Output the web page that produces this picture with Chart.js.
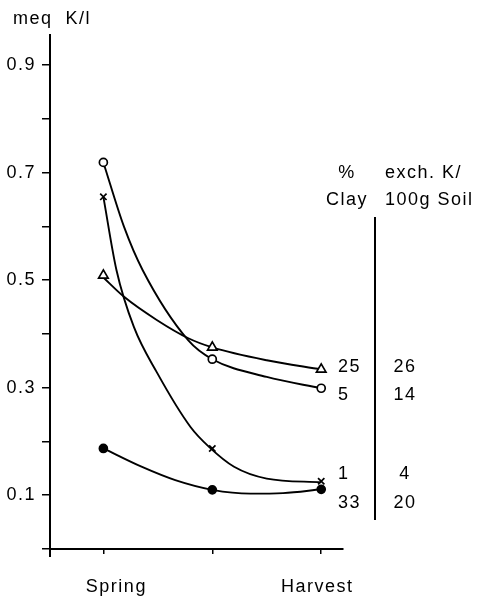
<!DOCTYPE html>
<html>
<head>
<meta charset="utf-8">
<script src="https://cdn.jsdelivr.net/npm/chart.js@4.4.1/dist/chart.umd.min.js"></script>
<style>
  html, body { margin: 0; padding: 0; background: #fff; }
  #wrap { width: 478px; height: 598px; }
</style>
</head>
<body>
<div id="wrap"><canvas id="chart" width="478" height="598"></canvas></div>
<script>
// sampling dates (x = 0, 1, 2)
const stages = ['Spring', '', 'Harvest'];
const stageX = [0, 1, 2];

// measured points, meq K/l
const clay5 = [0.719, 0.353, 0.299];   // open circle
const clay1 = [0.655, 0.187, 0.126];   // cross
const clay25 = [0.509, 0.375, 0.334];  // open triangle
const clay33 = [0.187, 0.110, 0.111];  // filled dot

// fitted curves as drawn
const curve5X = [0, 0.19, 0.36, 0.78, 1, 1.5, 2];
const curve5Y = [0.719, 0.599, 0.519, 0.388, 0.353, 0.320, 0.299];
const curve1X = [0, 0.12, 0.28, 0.49, 0.80, 0.97, 1.2, 1.5, 2];
const curve1Y = [0.655, 0.519, 0.413, 0.329, 0.227, 0.190, 0.153, 0.131, 0.124];
const curve25X = [0, 0.19, 0.49, 0.78, 1, 1.5, 2];
const curve25Y = [0.505, 0.469, 0.426, 0.392, 0.375, 0.351, 0.334];
const curve33X = [0, 0.35, 0.66, 1, 1.35, 1.65, 2];
const curve33Y = [0.187, 0.153, 0.128, 0.110, 0.103, 0.104, 0.111];

// right-hand table
const clayPct = ['25', '5', '1', '33'];
const exchK = ['26', '14', '4', '20'];
const rowY = [0.338, 0.286, 0.140, 0.086];

const yTicks = [0, 0.1, 0.2, 0.3, 0.4, 0.5, 0.6, 0.7, 0.8, 0.9];
const labelShift = [13, 0, -4];

const FONT = "'Liberation Sans', Arial, sans-serif";

function pts(xs, ys) {
  return xs.map((x, i) => ({ x: x, y: ys[i] }));
}

function markers(vals, style, radius, fill) {
  return {
    data: pts(stageX, vals),
    showLine: false,
    pointStyle: style,
    pointRadius: radius,
    pointBorderWidth: 1.7,
    pointBorderColor: '#000',
    pointBackgroundColor: fill,
    order: 0
  };
}

function curve(xs, ys) {
  return {
    data: pts(xs, ys),
    borderColor: '#000',
    borderWidth: 1.9,
    pointRadius: 0,
    cubicInterpolationMode: 'monotone',
    fill: false,
    order: 1
  };
}

const extras = {
  id: 'extras',
  beforeDraw(chart) {
    chart.ctx.letterSpacing = '1.5px';
  },
  afterDraw(chart) {
    const ctx = chart.ctx;
    const x = chart.scales.x, y = chart.scales.y;
    ctx.save();
    ctx.fillStyle = '#000';
    ctx.strokeStyle = '#000';
    ctx.font = '18px ' + FONT;
    ctx.letterSpacing = '1.5px';
    ctx.textBaseline = 'middle';

    // axis title
    ctx.textAlign = 'left';
    ctx.fillText('meq  K/l', 13, 19);

    // x labels
    ctx.textAlign = 'center';
    stages.forEach((t, i) => {
      if (t) ctx.fillText(t, x.getPixelForValue(stageX[i]) + labelShift[i], 587);
    });

    // y axis runs a little below the x axis
    ctx.lineWidth = 2;
    ctx.beginPath();
    ctx.moveTo(x.left, y.bottom);
    ctx.lineTo(x.left, y.bottom + 8);
    ctx.stroke();

    // table header
    ctx.textAlign = 'center';
    ctx.fillText('%', 347, 173);
    ctx.fillText('Clay', 347, 200);
    ctx.textAlign = 'left';
    ctx.fillText('exch. K/', 385, 173);
    ctx.fillText('100g Soil', 385, 200);

    // table rows
    clayPct.forEach((t, i) => {
      const py = y.getPixelForValue(rowY[i]);
      ctx.textAlign = 'left';
      ctx.fillText(t, 338, py);
      ctx.textAlign = 'center';
      ctx.fillText(exchK[i], 405, py);
    });

    // divider
    ctx.lineWidth = 2;
    ctx.beginPath();
    ctx.moveTo(375, 217);
    ctx.lineTo(375, 520);
    ctx.stroke();
    ctx.restore();
  }
};

const ctx = document.getElementById('chart').getContext('2d');
const chart = new Chart(ctx, {
  type: 'line',
  data: {
    datasets: [
      markers(clay5, 'circle', 4, '#fff'),
      markers(clay1, 'crossRot', 4.5, '#000'),
      markers(clay25, 'triangle', 5.5, '#fff'),
      markers(clay33, 'circle', 4, '#000'),
      curve(curve5X, curve5Y),
      curve(curve1X, curve1Y),
      curve(curve25X, curve25Y),
      curve(curve33X, curve33Y)
    ]
  },
  options: {
    responsive: false,
    animation: false,
    layout: { padding: { left: 0, right: 135, top: 35, bottom: 0 } },
    plugins: { legend: { display: false }, tooltip: { enabled: false } },
    scales: {
      x: {
        type: 'linear',
        min: -0.49,
        max: 2.2,
        afterBuildTicks: s => { s.ticks = stageX.map(v => ({ value: v })); },
        afterFit: s => { s.height = 49; },
        border: { display: true, color: '#000', width: 2 },
        grid: { drawOnChartArea: false, drawTicks: true, tickLength: 5, color: '#000', lineWidth: 1.5 },
        ticks: { display: false }
      },
      y: {
        type: 'linear',
        min: 0,
        max: 0.956,
        afterBuildTicks: s => { s.ticks = yTicks.map(v => ({ value: v })); },
        afterFit: s => { s.width = 50; },
        border: { display: true, color: '#000', width: 2 },
        grid: { drawOnChartArea: false, drawTicks: true, tickLength: 8, color: '#000', lineWidth: 1.5 },
        ticks: {
          padding: 6,
          color: '#000',
          font: { family: FONT, size: 18 },
          callback: (v) => (Math.round(v * 10) % 2 === 1) ? v.toFixed(1) : ''
        }
      }
    }
  },
  plugins: [extras]
});
</script>
</body>
</html>
